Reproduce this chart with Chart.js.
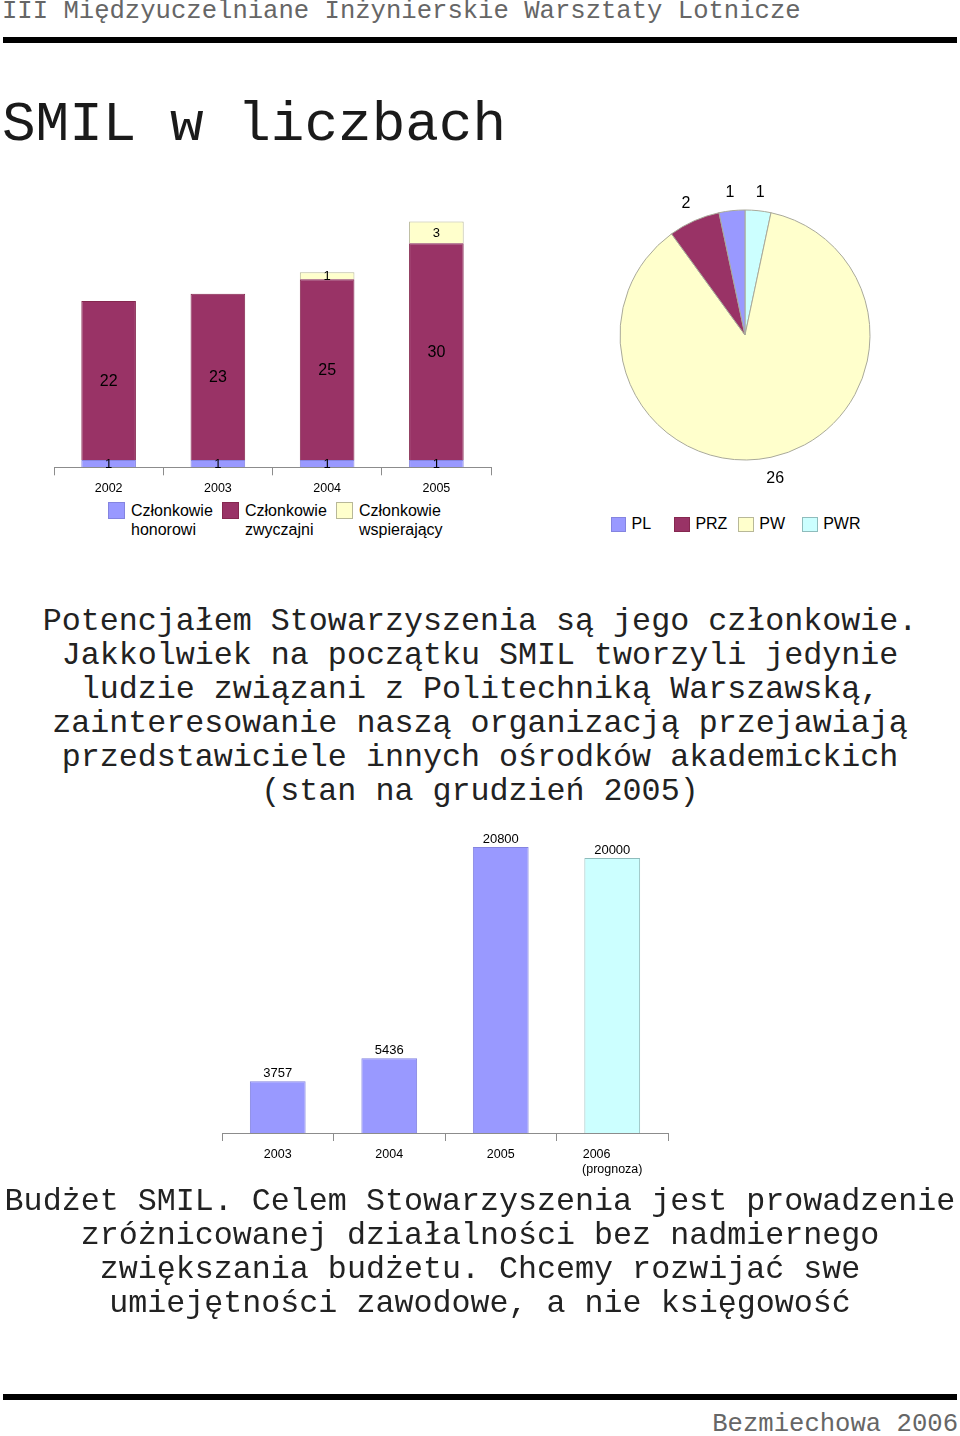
<!DOCTYPE html>
<html lang="pl">
<head>
<meta charset="utf-8">
<script src="https://cdn.jsdelivr.net/npm/chart.js@4.4.1/dist/chart.umd.min.js"></script>
<style>
  html, body { margin: 0; padding: 0; background: #ffffff; }
  body { position: relative; width: 960px; height: 1436px; overflow: hidden; }
  .abs { position: absolute; }
  .mono { font-family: "Liberation Mono", "DejaVu Sans Mono", monospace; white-space: pre; }
  .sans { font-family: "Liberation Sans", Arial, sans-serif; }
  .rule { position: absolute; left: 3px; width: 954px; height: 6px; background: #000; }
  .leg { position: absolute; font-size: 16px; line-height: 19px; color: #000; white-space: pre; }
  .sw { position: absolute; box-sizing: border-box; border: 1px solid #777; }
  canvas { position: absolute; }
</style>
</head>
<body>
<script>
// ---------------- DATA ----------------
const memberYears = ['2002', '2003', '2004', '2005'];
const honorowi = [1, 1, 1, 1];
const zwyczajni = [22, 23, 25, 30];
const wspierajacy = [0, 0, 1, 3];
const memberSeriesNames = ['Członkowie\nhonorowi', 'Członkowie\nzwyczajni', 'Członkowie\nwspierający'];

const uczelnie = ['PL', 'PRZ', 'PW', 'PWR'];
const uczelnieCount = [1, 2, 26, 1];

const budgetYears = [['2003'], ['2004'], ['2005'], ['2006', '(prognoza)']];
const budget = [3757, 5436, 20800, 20000];
</script>

<div class="abs mono" style="left:2px; top:-0.8px; font-size:25.6px; line-height:25.6px; color:#666;">III Międzyuczelniane Inżynierskie Warsztaty Lotnicze</div>
<div class="rule" style="top:37px;"></div>
<div class="abs mono" style="left:2px; top:96.6px; font-size:56px; line-height:56px; color:#1a1a1a;">SMIL w liczbach</div>

<canvas id="members" width="457" height="300" style="left:44px; top:200px;"></canvas>
<div id="membersLegend"></div>

<canvas id="pie" width="350" height="350" style="left:570px; top:160px;"></canvas>
<div id="pieLegend"></div>

<div class="abs mono" style="left:0; width:960px; top:605px; font-size:31.7px; line-height:34px; text-align:center; color:#222;">Potencjałem Stowarzyszenia są jego członkowie.
Jakkolwiek na początku SMIL tworzyli jedynie
ludzie związani z Politechniką Warszawską,
zainteresowanie naszą organizacją przejawiają
przedstawiciele innych ośrodków akademickich
(stan na grudzień 2005)</div>

<canvas id="budget" width="470" height="370" style="left:210px; top:820px;"></canvas>

<div class="abs mono" style="left:0; width:960px; top:1184.5px; font-size:31.7px; line-height:34px; text-align:center; color:#222;">Budżet SMIL. Celem Stowarzyszenia jest prowadzenie
zróżnicowanej działalności bez nadmiernego
zwiększania budżetu. Chcemy rozwijać swe
umiejętności zawodowe, a nie księgowość</div>

<div class="rule" style="top:1394px;"></div>
<div class="abs mono" style="right:2px; top:1412.4px; font-size:25.6px; line-height:25.6px; color:#666;">Bezmiechowa 2006</div>

<script>
const C_BLUE = '#9999FF', C_PURPLE = '#993366', C_YELLOW = '#FFFFCC', C_CYAN = '#CCFFFF';
const B_BLUE = '#8484e0', B_PURPLE = '#85284f', B_YELLOW = '#b8b898', B_CYAN = '#8fbcbc';
const AXIS = '#8c8c8c';
const SANS = '"Liberation Sans", Arial, sans-serif';

// ---------- HTML legends ----------
function legend(containerId, items) {
  const c = document.getElementById(containerId);
  items.forEach(it => {
    const sw = document.createElement('div');
    sw.className = 'sw';
    sw.style.cssText = `left:${it.sx}px; top:${it.sy}px; width:${it.size}px; height:${it.size}px; background:${it.fill}; border-color:${it.border};`;
    c.appendChild(sw);
    const t = document.createElement('div');
    t.className = 'leg sans';
    t.style.left = it.tx + 'px';
    t.style.top = it.ty + 'px';
    t.textContent = it.label;
    c.appendChild(t);
  });
}
const memberFills = [C_BLUE, C_PURPLE, C_YELLOW];
const memberBorders = [B_BLUE, B_PURPLE, B_YELLOW];
legend('membersLegend', memberSeriesNames.map((n, i) => ({
  label: n, fill: memberFills[i], border: memberBorders[i],
  sx: 108 + i * 114, sy: 502, size: 17, tx: 131 + i * 114, ty: 500.7
})));
const pieFills = [C_BLUE, C_PURPLE, C_YELLOW, C_CYAN];
const pieBorders = [B_BLUE, B_PURPLE, B_YELLOW, B_CYAN];
legend('pieLegend', uczelnie.map((n, i) => ({
  label: n, fill: pieFills[i], border: pieBorders[i],
  sx: 610.5 + i * 63.9, sy: 516.5, size: 15.5, tx: 631.5 + i * 63.9, ty: 514
})));

Chart.defaults.font.family = SANS;
Chart.defaults.color = '#000';

// ---------- Stacked members chart ----------
const stackLabels = {
  id: 'stackLabels',
  afterDatasetsDraw(chart) {
    const ctx = chart.ctx;
    ctx.save();
    ctx.fillStyle = '#000';
    ctx.textAlign = 'center';
    ctx.textBaseline = 'middle';
    chart.data.datasets.forEach((ds, di) => {
      const meta = chart.getDatasetMeta(di);
      ctx.font = (di === 1 ? '16px ' : '13px ') + SANS;
      meta.data.forEach((el, i) => {
        const v = ds.data[i];
        if (!v) return;
        const p = el.getCenterPoint();
        ctx.fillText(String(v), p.x, p.y + 1);
      });
    });
    ctx.restore();
  }
};
new Chart(document.getElementById('members'), {
  type: 'bar',
  data: {
    labels: memberYears,
    datasets: [
      { label: memberSeriesNames[0], data: honorowi, backgroundColor: C_BLUE, borderColor: B_BLUE, borderWidth: 1 },
      { label: memberSeriesNames[1], data: zwyczajni, backgroundColor: C_PURPLE, borderColor: B_PURPLE, borderWidth: 1 },
      { label: memberSeriesNames[2], data: wspierajacy, backgroundColor: C_YELLOW, borderColor: B_YELLOW, borderWidth: 1 }
    ]
  },
  options: {
    responsive: false, animation: false, devicePixelRatio: 1,
    layout: { padding: { left: 10, right: 10, top: 14.3, bottom: 0 } },
    plugins: { legend: { display: false }, tooltip: { enabled: false } },
    datasets: { bar: { barPercentage: 0.5, categoryPercentage: 1 } },
    scales: {
      x: {
        stacked: true,
        afterFit(s) { s.height = 32.7; },
        border: { display: true, color: AXIS, width: 1 },
        grid: {
          offset: true, drawOnChartArea: false, tickLength: 8,
          tickColor: c => (c.index >= memberYears.length ? 'rgba(0,0,0,0)' : AXIS)
        },
        ticks: { padding: 6, font: { size: 12.5 }, color: '#000', maxRotation: 0 }
      },
      y: { stacked: true, display: false, min: 0, max: 35 }
    }
  },
  plugins: [stackLabels]
});

// ---------- Pie chart ----------
const PIE_ORDER = [3, 2, 1, 0]; // drawn clockwise from the top: PWR, PW, PRZ, PL
const pieLabels = {
  id: 'pieLabels',
  afterDatasetsDraw(chart) {
    const ctx = chart.ctx;
    const meta = chart.getDatasetMeta(0);
    ctx.save();
    ctx.fillStyle = '#000';
    ctx.font = '16px ' + SANS;
    ctx.textAlign = 'center';
    ctx.textBaseline = 'middle';
    meta.data.forEach((arc, i) => {
      const mid = (arc.startAngle + arc.endAngle) / 2;
      const r = arc.outerRadius + 20;
      ctx.fillText(String(chart.data.datasets[0].data[i]), arc.x + Math.cos(mid) * r, arc.y + Math.sin(mid) * r + 1.5);
    });
    ctx.restore();
  }
};
new Chart(document.getElementById('pie'), {
  type: 'pie',
  data: {
    labels: PIE_ORDER.map(i => uczelnie[i]),
    datasets: [{
      data: PIE_ORDER.map(i => uczelnieCount[i]),
      backgroundColor: PIE_ORDER.map(i => pieFills[i]),
      borderColor: '#a9a99a',
      borderWidth: 1
    }]
  },
  options: {
    responsive: false, animation: false, devicePixelRatio: 1,
    layout: { padding: 49.5 },
    plugins: { legend: { display: false }, tooltip: { enabled: false } }
  },
  plugins: [pieLabels]
});

// ---------- Budget chart ----------
const measureCtx = document.createElement('canvas').getContext('2d');
function leftAlignLines(lines, font) {
  if (!Array.isArray(lines) || lines.length < 2) return lines;
  measureCtx.font = font;
  const w = Math.max(...lines.map(l => measureCtx.measureText(l).width));
  return lines.map(l => { let s = l; while (measureCtx.measureText(s + ' ').width <= w + 1) s += ' '; return s; });
}
const budgetLabels = {
  id: 'budgetLabels',
  afterDatasetsDraw(chart) {
    const ctx = chart.ctx;
    const meta = chart.getDatasetMeta(0);
    ctx.save();
    ctx.fillStyle = '#000';
    ctx.font = '13px ' + SANS;
    ctx.textAlign = 'center';
    ctx.textBaseline = 'middle';
    meta.data.forEach((el, i) => {
      ctx.fillText(String(chart.data.datasets[0].data[i]), el.x, el.y - 8);
    });
    ctx.restore();
  }
};
const budgetFill = [C_BLUE, C_BLUE, C_BLUE, C_CYAN];
const budgetBorder = [B_BLUE, B_BLUE, B_BLUE, B_CYAN];
new Chart(document.getElementById('budget'), {
  type: 'bar',
  data: {
    labels: budgetYears,
    datasets: [{ data: budget, backgroundColor: budgetFill, borderColor: budgetBorder, borderWidth: 1 }]
  },
  options: {
    responsive: false, animation: false, devicePixelRatio: 1,
    layout: { padding: { left: 12, right: 12, top: 10.5, bottom: 0 } },
    plugins: { legend: { display: false }, tooltip: { enabled: false } },
    datasets: { bar: { barPercentage: 0.5, categoryPercentage: 1 } },
    scales: {
      x: {
        afterFit(s) { s.height = 57; },
        border: { display: true, color: AXIS, width: 1 },
        grid: {
          offset: true, drawOnChartArea: false, tickLength: 8,
          tickColor: c => (c.index >= budgetYears.length ? 'rgba(0,0,0,0)' : AXIS)
        },
        ticks: {
          padding: 6, font: { size: 12.5 }, color: '#000', maxRotation: 0,
          callback(v, i) { return leftAlignLines(budgetYears[i], '12.5px ' + SANS); }
        }
      },
      y: { display: false, min: 0, max: 22000 }
    }
  },
  plugins: [budgetLabels]
});
</script>
</body>
</html>
